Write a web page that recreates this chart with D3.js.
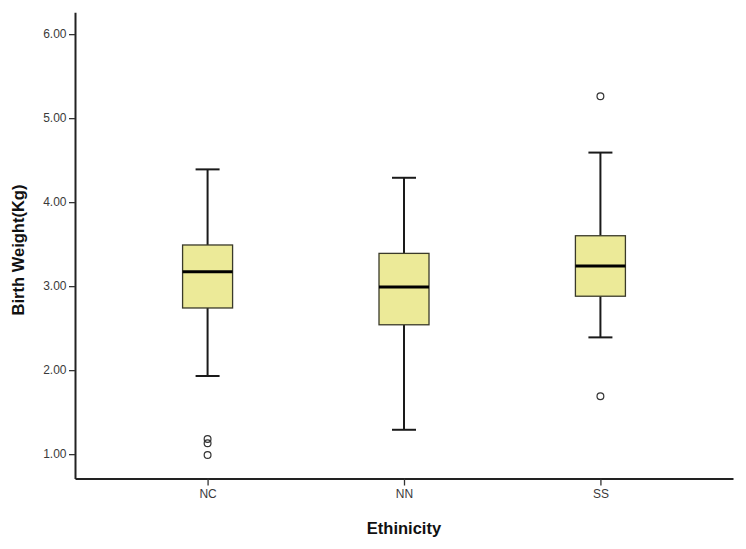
<!DOCTYPE html>
<html>
<head>
<meta charset="utf-8">
<script src="https://cdn.jsdelivr.net/npm/d3@7"></script>
<style>
  html, body { margin: 0; padding: 0; background: #fff; }
  svg { display: block; }
</style>
</head>
<body>
<svg id="chart" width="746" height="549"></svg>
<script>
// ---- data ----
const categories   = ["NC", "NN", "SS"];
const whiskerLow   = [1.93, 1.29, 2.39];
const quartile1    = [2.74, 2.54, 2.88];
const medians      = [3.17, 2.99, 3.24];
const quartile3    = [3.49, 3.39, 3.60];
const whiskerHigh  = [4.39, 4.29, 4.59];
const outliers     = [[1.18, 1.13, 0.99], [], [5.26, 1.69]];
const yTicks       = [1, 2, 3, 4, 5, 6];

const svg = d3.select("#chart");
const font = "Arial, 'Liberation Sans', Helvetica, sans-serif";

const x = d3.scalePoint().domain(categories).range([75, 733]).padding(0.675);
const y = d3.scaleLinear().domain([0.71, 6.26]).range([478.5, 12.3]);

const boxW = 50, capW = 24;

// axes
const yAxis = svg.append("g")
  .attr("transform", "translate(75,0)")
  .call(d3.axisLeft(y).tickValues(yTicks).tickFormat(d3.format(".2f"))
        .tickSize(6).tickSizeOuter(0).tickPadding(2.5));
const xAxis = svg.append("g")
  .attr("transform", "translate(0,478.5)")
  .call(d3.axisBottom(x).tickSize(7).tickSizeOuter(0).tickPadding(4));

[yAxis, xAxis].forEach(g => {
  g.select(".domain").attr("stroke", "#222").attr("stroke-width", 2);
  g.selectAll(".tick line").attr("stroke", "#333").attr("stroke-width", 1.3);
  g.selectAll(".tick text").attr("fill", "#3a3a3a")
    .style("font-family", font).style("font-size", "12px");
});

// boxes
const data = categories.map((c, i) => ({
  c, lo: whiskerLow[i], q1: quartile1[i], med: medians[i],
  q3: quartile3[i], hi: whiskerHigh[i], out: outliers[i]
}));

const g = svg.append("g");
const grp = g.selectAll("g.box").data(data).join("g").attr("class", "box");

// whisker stems
grp.append("line")
  .attr("x1", d => x(d.c)).attr("x2", d => x(d.c))
  .attr("y1", d => y(d.hi)).attr("y2", d => y(d.q3))
  .attr("stroke", "#1a1a1a").attr("stroke-width", 2);
grp.append("line")
  .attr("x1", d => x(d.c)).attr("x2", d => x(d.c))
  .attr("y1", d => y(d.q1)).attr("y2", d => y(d.lo))
  .attr("stroke", "#1a1a1a").attr("stroke-width", 2);
// caps
grp.append("line")
  .attr("x1", d => x(d.c) - capW / 2).attr("x2", d => x(d.c) + capW / 2)
  .attr("y1", d => y(d.hi)).attr("y2", d => y(d.hi))
  .attr("stroke", "#1a1a1a").attr("stroke-width", 2);
grp.append("line")
  .attr("x1", d => x(d.c) - capW / 2).attr("x2", d => x(d.c) + capW / 2)
  .attr("y1", d => y(d.lo)).attr("y2", d => y(d.lo))
  .attr("stroke", "#1a1a1a").attr("stroke-width", 2);
// box
grp.append("rect")
  .attr("x", d => x(d.c) - boxW / 2).attr("width", boxW)
  .attr("y", d => y(d.q3)).attr("height", d => y(d.q1) - y(d.q3))
  .attr("fill", "#ecea98").attr("stroke", "#3a3a2a").attr("stroke-width", 1.3);
// median
grp.append("line")
  .attr("x1", d => x(d.c) - boxW / 2).attr("x2", d => x(d.c) + boxW / 2)
  .attr("y1", d => y(d.med)).attr("y2", d => y(d.med))
  .attr("stroke", "#000").attr("stroke-width", 3);
// outliers
grp.selectAll("circle").data(d => d.out.map(v => ({ c: d.c, v }))).join("circle")
  .attr("cx", d => x(d.c)).attr("cy", d => y(d.v)).attr("r", 3.4)
  .attr("fill", "none").attr("stroke", "#333").attr("stroke-width", 1.2);

// titles
svg.append("text")
  .attr("x", 404).attr("y", 534).attr("text-anchor", "middle")
  .style("font-family", font).style("font-size", "16.5px").style("font-weight", "bold")
  .attr("fill", "#111").text("Ethinicity");
svg.append("text")
  .attr("transform", "translate(23.5,250) rotate(-90)").attr("text-anchor", "middle")
  .style("font-family", font).style("font-size", "16.5px").style("font-weight", "bold")
  .attr("fill", "#111").text("Birth Weight(Kg)");
</script>
</body>
</html>
